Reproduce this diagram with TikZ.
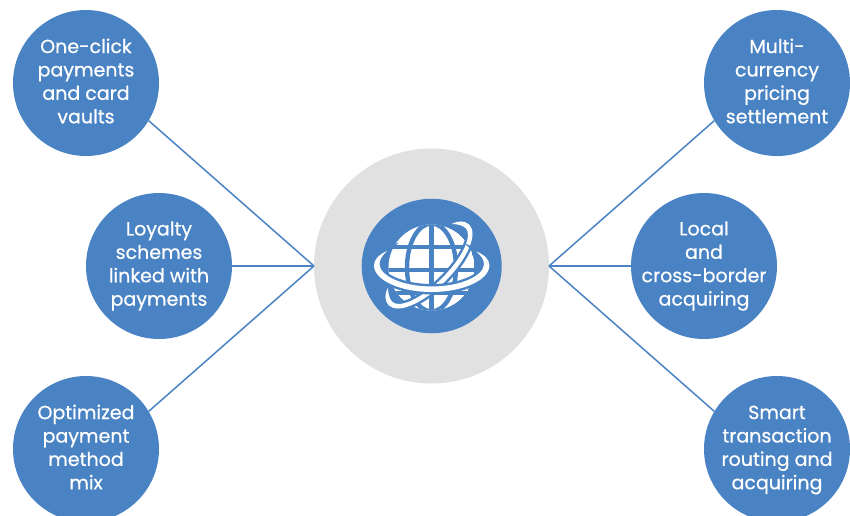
\documentclass[tikz,border=0pt]{standalone}
\usepackage{fontspec}
\usetikzlibrary{shapes.geometric}
\setmainfont[FakeBold=0.5]{Poppins}
\definecolor{bl}{HTML}{4A83C4}
\definecolor{gr}{HTML}{E1E1E1}
\tikzset{
 bub/.style={circle,fill=bl,minimum size=146pt,inner sep=0pt},
 txt/.style={text=white,align=center,inner sep=0pt,font=\fontsize{19}{23.4}\selectfont},
 link/.style={draw=bl,line width=1.5pt},
 gridline/.style={draw=bl,line width=4.4pt},
 orbit/.style={fill=white,line join=round,preaction={draw=bl,line width=5pt}},
}
\begin{document}
\begin{tikzpicture}[x=1pt,y=-1pt]
\useasboundingbox (0,0) rectangle (850,515);
\node[circle,fill=gr,minimum size=235pt,inner sep=0pt] (hub) at (431.5,266) {};
\coordinate (hl) at (314,266);
\coordinate (hr) at (549,266);
\node[bub] (a) at (86,83) {};
\node[bub] (b) at (159,266) {};
\node[bub] (c) at (86,449) {};
\node[bub] (d) at (777,83) {};
\node[bub] (e) at (704,266) {};
\node[bub] (f) at (777,449) {};
\node[txt] (ta) at (86,81) {One-click\\payments\\and card\\vaults};
\node[txt] (tb) at (159,266) {Loyalty\\schemes\\linked with\\payments};
\node[txt] (tc) at (86,447) {Optimized\\payment\\method\\mix};
\node[txt] (td) at (777,81) {Multi-\\currency\\pricing\\settlement};
\node[txt] (te) at (704,266) {Local\\and\\cross-border\\acquiring};
\node[txt] (tf) at (777,450) {Smart\\transaction\\routing and\\acquiring};
\draw[link] (a.-31) -- (hl);
\draw[link] (b.east) -- (hl);
\draw[link] (c.31) -- (hl);
\draw[link] (d.211) -- (hr);
\draw[link] (e.west) -- (hr);
\draw[link] (f.149) -- (hr);
\node[ellipse,fill=bl,minimum width=140pt,minimum height=134.5pt,inner sep=0pt] (g) at (431.7,266) {};
% globe
\begin{scope}
\clip (431.5,267.5) circle (43);
\fill[white] (431.5,267.5) circle (43);
\draw[gridline] (431.5,210) -- (431.5,320);
\draw[gridline] (431.5,267.5) ellipse (24.5 and 44);
\draw[gridline] (385,246.7) -- (480,246.7);
\draw[gridline] (385,270) -- (480,270);
\draw[gridline] (385,293) -- (480,293);
\end{scope}
% tilted orbit
\begin{scope}[shift={(429,265)},rotate=45]
\path[orbit] (45,-13) .. controls (52,-11) and (57,-6) .. (57,0)
 .. controls (57,13) and (31,23) .. (0,23)
 .. controls (-31,23) and (-57,13) .. (-57,0)
 .. controls (-57,-6) and (-52,-11) .. (-45,-13)
 .. controls (-49,-9) and (-52,-4) .. (-52,0)
 .. controls (-52,10) and (-29,18.5) .. (0,18.5)
 .. controls (29,18.5) and (52,10) .. (52,0)
 .. controls (52,-4) and (49,-9) .. (45,-13) -- cycle;
\end{scope}
% horizontal orbit
\path[orbit] (387,251) .. controls (378,255) and (374,260) .. (374,265.5)
 .. controls (374,280) and (400,292) .. (431.7,292)
 .. controls (463,292) and (489.4,280) .. (489.4,265.5)
 .. controls (489.4,260) and (485,255) .. (476.5,251.5)
 .. controls (481.5,256) and (484,260) .. (484,264)
 .. controls (484,276) and (460,286.5) .. (431.7,286.5)
 .. controls (403,286.5) and (379.5,276) .. (379.5,264)
 .. controls (379.5,260) and (382,255.5) .. (387,251) -- cycle;
\end{tikzpicture}
\end{document}
